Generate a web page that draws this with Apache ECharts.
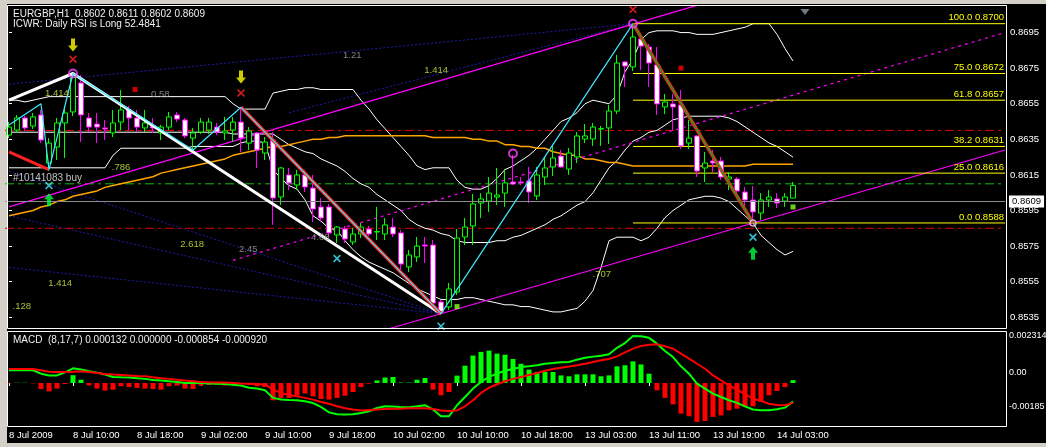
<!DOCTYPE html>
<html><head><meta charset="utf-8">
<script src="https://cdn.jsdelivr.net/npm/echarts@6/dist/echarts.min.js"></script>
<style>html,body{margin:0;padding:0;background:#d4d0c8;overflow:hidden}#c{width:1046px;height:447px}</style>
</head><body><div id="c"></div>
<script>
// ---------- DATA ----------
const ohlc = [ // [open, close, low, high]
[0.86374,0.86419,0.86357,0.86447],[0.86402,0.86470,0.86386,0.86487],[0.86470,0.86414,0.86397,0.86481],[0.86425,0.86476,0.86408,0.86498],[0.86487,0.86346,0.86329,0.86515],
[0.86217,0.86329,0.86172,0.86357],[0.86307,0.86442,0.86234,0.86470],[0.86442,0.86498,0.86245,0.86537],[0.86504,0.86700,0.86481,0.86723],[0.86667,0.86487,0.86335,0.86712],
[0.86470,0.86419,0.86391,0.86498],[0.86436,0.86419,0.86329,0.86498],[0.86414,0.86408,0.86346,0.86459],[0.86386,0.86442,0.86363,0.86515],[0.86447,0.86515,0.86402,0.86627],
[0.86515,0.86470,0.86402,0.86537],[0.86470,0.86419,0.86391,0.86515],[0.86414,0.86442,0.86391,0.86515],[0.86425,0.86414,0.86386,0.86470],[0.86386,0.86419,0.86346,0.86431],
[0.86419,0.86476,0.86402,0.86504],[0.86487,0.86464,0.86447,0.86504],[0.86459,0.86369,0.86357,0.86470],[0.86357,0.86386,0.86290,0.86414],[0.86391,0.86447,0.86380,0.86470],
[0.86402,0.86447,0.86380,0.86470],[0.86419,0.86391,0.86374,0.86442],[0.86386,0.86397,0.86346,0.86476],[0.86402,0.86447,0.86335,0.86476],[0.86447,0.86357,0.86279,0.86532],
[0.86329,0.86397,0.86290,0.86419],[0.86386,0.86290,0.86189,0.86391],[0.86273,0.86335,0.86234,0.86363],[0.86346,0.86020,0.85869,0.86391],[0.86026,0.86189,0.85981,0.86195],
[0.86150,0.86105,0.86065,0.86189],[0.86093,0.86150,0.86065,0.86178],[0.86150,0.86082,0.86054,0.86178],[0.86076,0.85958,0.85885,0.86150],[0.85970,0.85908,0.85885,0.86020],
[0.85970,0.85824,0.85801,0.85987],[0.85812,0.85857,0.85767,0.85863],[0.85846,0.85790,0.85767,0.85863],[0.85773,0.85818,0.85756,0.85852],[0.85818,0.85857,0.85795,0.85880],
[0.85846,0.85818,0.85807,0.85863],[0.85829,0.85832,0.85784,0.85970],[0.85818,0.85869,0.85784,0.85908],[0.85857,0.85818,0.85801,0.85908],[0.85824,0.85649,0.85616,0.85840],
[0.85633,0.85700,0.85604,0.85728],[0.85689,0.85750,0.85661,0.85801],[0.85756,0.85750,0.85655,0.85801],[0.85756,0.85430,0.85425,0.85784],[0.85436,0.85380,0.85368,0.85447],
[0.85408,0.85509,0.85391,0.85543],[0.85492,0.85795,0.85475,0.85846],[0.85801,0.85857,0.85756,0.85908],[0.85863,0.85987,0.85756,0.86043],[0.85992,0.86015,0.85908,0.86048],
[0.86003,0.86048,0.85942,0.86138],[0.86026,0.86037,0.85981,0.86189],[0.86048,0.86105,0.85970,0.86183],[0.86110,0.86099,0.86093,0.86262],[0.86110,0.86105,0.86093,0.86138],
[0.86116,0.86054,0.85992,0.86195],[0.86032,0.86150,0.86009,0.86195],[0.86138,0.86189,0.86093,0.86251],[0.86195,0.86245,0.86144,0.86313],[0.86256,0.86195,0.86189,0.86290],
[0.86183,0.86273,0.86150,0.86301],[0.86251,0.86369,0.86217,0.86391],[0.86352,0.86369,0.86329,0.86436],[0.86352,0.86419,0.86313,0.86442],[0.86408,0.86410,0.86313,0.86425],
[0.86414,0.86509,0.86324,0.86543],[0.86509,0.86779,0.86492,0.86824],[0.86785,0.86762,0.86644,0.86790],[0.86757,0.86925,0.86734,0.87000],[0.86914,0.86874,0.86740,0.86948],
[0.86869,0.86779,0.86644,0.86886],[0.86768,0.86549,0.86487,0.86869],[0.86532,0.86560,0.86492,0.86605],[0.86549,0.86532,0.86402,0.86605],[0.86543,0.86313,0.86296,0.86627],
[0.86329,0.86357,0.86296,0.86459],[0.86369,0.86172,0.86138,0.86374],[0.86189,0.86217,0.86110,0.86279],[0.86228,0.86217,0.86166,0.86290],[0.86228,0.86138,0.86121,0.86251],
[0.86127,0.86138,0.86065,0.86166],[0.86127,0.86060,0.86037,0.86138],[0.86054,0.86009,0.85970,0.86082],[0.86009,0.85942,0.85880,0.86088],[0.85936,0.86009,0.85897,0.86048],
[0.86009,0.86026,0.85970,0.86065],[0.86015,0.85992,0.85964,0.86048],[0.86003,0.86026,0.85970,0.86048],[0.8602,0.8609,0.8602,0.8611]
];
const upperBand = [
0.8657,0.8657,0.8656,0.8657,0.8658,0.8659,0.8659,0.8659,0.8659,0.8659,
0.8659,0.8659,0.8659,0.8659,0.8659,0.8659,0.8659,0.8659,0.8659,0.8659,
0.8659,0.8659,0.8659,0.8659,0.8659,0.8659,0.8659,0.8659,0.8655,0.8652,
0.8652,0.8652,0.8652,0.8661,0.8662,0.8663,0.8663,0.8664,0.8664,0.8663,
0.8663,0.8663,0.8663,0.8663,0.8657,0.8652,0.8646,0.8641,0.8636,0.8631,
0.8626,0.8620,0.8618,0.8619,0.8619,0.8619,0.8612,0.8608,0.8607,0.8607,
0.8609,0.8613,0.8618,0.8620,0.8623,0.8626,0.8630,0.8635,0.8640,0.8645,
0.8647,0.8650,0.8655,0.8657,0.8656,0.8655,0.8660,0.8673,0.8680,0.8691,
0.8695,0.8696,0.8696,0.8696,0.8695,0.8695,0.8694,0.8694,0.8694,0.8695,
0.8696,0.8697,0.8698,0.8700,0.8700,0.8700,0.8694,0.8686,0.8679];
const middleBand = [
0.8639,0.8639,0.8639,0.8639,0.8639,0.8639,0.8639,0.8639,0.8639,0.8639,
0.8639,0.8639,0.8639,0.8639,0.8639,0.8639,0.8639,0.8639,0.8639,0.8639,
0.8639,0.8639,0.8639,0.8639,0.8639,0.8639,0.8639,0.8639,0.8638,0.8638,
0.8638,0.8638,0.8638,0.8638,0.8635,0.8632,0.8630,0.8628,0.8627,0.8624,
0.8622,0.8620,0.8617,0.8613,0.8610,0.8608,0.8604,0.8601,0.8598,0.8595,
0.8590,0.8587,0.8585,0.8584,0.8582,0.8581,0.8578,0.8577,0.8577,0.8577,
0.8577,0.8578,0.8578,0.8580,0.8581,0.8583,0.8585,0.8587,0.8590,0.8592,
0.8595,0.8598,0.8600,0.8605,0.8612,0.8619,0.8623,0.8629,0.8634,0.8636,
0.8639,0.8640,0.8643,0.8646,0.8647,0.8648,0.8648,0.8648,0.8648,0.8648,
0.8647,0.8645,0.8642,0.8639,0.8636,0.8633,0.8631,0.8628,0.8625];
const lowerBand = [
0.8619,0.8619,0.8619,0.8619,0.8619,0.8619,0.8619,0.8619,0.8619,0.8619,
0.8619,0.8619,0.8619,0.8626,0.8630,0.8630,0.8630,0.8630,0.8630,0.8630,
0.8630,0.8630,0.8630,0.8631,0.8631,0.8631,0.8631,0.8631,0.8631,0.8633,
0.8634,0.8634,0.8633,0.8618,0.8613,0.8609,0.8607,0.8601,0.8592,0.8589,
0.8585,0.8584,0.8578,0.8573,0.8569,0.8566,0.8564,0.8562,0.8560,0.8557,
0.8554,0.8551,0.8549,0.8547,0.8545,0.8545,0.8545,0.8546,0.8546,0.8545,
0.8544,0.8543,0.8542,0.8542,0.8541,0.8541,0.8540,0.8539,0.8538,0.8538,
0.8539,0.8540,0.8544,0.8550,0.8563,0.8578,0.8580,0.8580,0.8580,0.8578,
0.8580,0.8585,0.8591,0.8595,0.8598,0.8601,0.8602,0.8603,0.8603,0.8602,
0.8600,0.8596,0.8592,0.8588,0.8581,0.8577,0.8573,0.8570,0.8572];
const orangeMA = [
0.8592,0.8593,0.8594,0.8595,0.8597,0.8598,0.8600,0.8601,0.8603,0.8604,
0.8605,0.8606,0.8608,0.8609,0.8610,0.8611,0.8612,0.8613,0.8614,0.8616,
0.8617,0.8618,0.8619,0.8620,0.8621,0.8622,0.8623,0.8624,0.8626,0.8627,
0.8628,0.8629,0.8630,0.8631,0.8631,0.8632,0.8633,0.8634,0.8635,0.8635,
0.8636,0.8636,0.8637,0.8637,0.8637,0.8637,0.8637,0.8637,0.8637,0.8637,
0.8637,0.8637,0.8637,0.8636,0.8636,0.8636,0.8636,0.8636,0.8635,0.8635,
0.8634,0.8634,0.8632,0.8632,0.8631,0.8631,0.8630,0.8630,0.8628,0.8627,
0.8626,0.8626,0.8624,0.8624,0.8623,0.8622,0.8622,0.8621,0.8620,0.8620,
0.8620,0.8620,0.8620,0.8620,0.8620,0.8620,0.8620,0.8620,0.8620,0.8620,
0.8620,0.8620,0.8620,0.8621,0.8621,0.8621,0.8621,0.8621,0.8621];
const macdHist = [
-0.00002,0.00001,0.00001,-0.00002,-0.00028,-0.00039,-0.00026,-0.00005,0.00036,0.00015,
-0.00011,-0.00026,-0.00035,-0.00031,-0.00015,-0.00019,-0.00023,-0.00026,-0.00028,-0.00031,
-0.00015,-0.00012,-0.00026,-0.00028,-0.00012,-0.00009,-0.00008,-0.00012,-0.00005,-0.00003,
-0.00008,-0.00015,-0.00019,-0.0008,-0.00069,-0.00069,-0.00059,-0.00049,-0.00062,-0.00074,
-0.00077,-0.00069,-0.00059,-0.00042,-0.00019,-0.00003,0.00012,0.00025,0.00028,0.00002,
0.00002,0.00015,0.00023,-0.00031,-0.00057,-0.00042,0.00034,0.0008,0.00127,0.00144,
0.0015,0.00136,0.00131,0.00111,0.00089,0.00062,0.00051,0.00051,0.00051,0.00035,
0.00031,0.0004,0.0004,0.0004,0.00031,0.00035,0.00077,0.00082,0.001,0.00086,
0.00043,-0.00034,-0.00069,-0.00099,-0.00142,-0.00154,-0.0018,-0.00176,-0.00157,-0.0015,
-0.00127,-0.00119,-0.00111,-0.00108,-0.00088,-0.00057,-0.00037,-0.00019,0.000132];
const macdMain = [
0.00059,0.00059,0.00059,0.00059,0.00043,0.00035,0.00035,0.00049,0.00068,0.00062,
0.00054,0.00048,0.00039,0.00028,0.00026,0.00025,0.00022,0.00019,0.00014,0.00011,
0.00008,0.00005,0,0,0,-0.00002,-0.00003,-0.00005,-0.00008,-0.00012,
-0.00022,-0.00026,-0.00034,-0.00069,-0.00076,-0.00079,-0.0008,-0.00085,-0.00093,-0.00111,
-0.00136,-0.00145,-0.00146,-0.00145,-0.00139,-0.00131,-0.00116,-0.00108,-0.00109,-0.00112,
-0.00112,-0.00108,-0.00103,-0.00123,-0.00154,-0.00154,-0.00103,-0.00065,-0.00026,0.00005,
0.00028,0.00043,0.00057,0.00065,0.00074,0.00077,0.00082,0.00089,0.00092,0.00096,
0.00097,0.00108,0.00117,0.00122,0.00126,0.00133,0.00163,0.00185,0.00217,0.00216,
0.00209,0.00182,0.00148,0.0012,0.00077,0.00043,-0.00003,-0.00026,-0.00049,-0.00065,
-0.0008,-0.00092,-0.00108,-0.00123,-0.00126,-0.00126,-0.00122,-0.00114,-0.000854];
const macdSignal = [
0.00065,0.00065,0.00065,0.00065,0.00059,0.00052,0.00051,0.00051,0.00052,0.00054,
0.00051,0.00046,0.00042,0.00039,0.00037,0.00035,0.00032,0.00031,0.00026,0.00022,
0.00019,0.00015,0.00011,0.00008,0.00005,0.00003,0.00002,0.00002,0,-0.00002,
-0.00003,-0.00005,-0.00008,-0.00031,-0.00046,-0.00056,-0.00062,-0.00069,-0.00077,-0.00088,
-0.00096,-0.00108,-0.00117,-0.00123,-0.00127,-0.00125,-0.00123,-0.0012,-0.00119,-0.00119,
-0.00117,-0.00117,-0.00117,-0.0012,-0.00127,-0.0013,-0.00127,-0.00108,-0.0008,-0.00046,
-0.00022,-0.00006,0.00008,0.00019,0.00028,0.00037,0.00046,0.00057,0.00065,0.00071,
0.00076,0.00082,0.00089,0.00097,0.00105,0.00111,0.00123,0.00142,0.00159,0.00171,
0.00177,0.00179,0.0017,0.00159,0.00136,0.00113,0.00089,0.00066,0.00035,0.00012,
-0.00011,-0.00031,-0.00052,-0.00073,-0.00083,-0.00096,-0.00102,-0.00103,-0.00092];

const tickLabels = ['8 Jul 2009','8 Jul 10:00','8 Jul 18:00','9 Jul 02:00','9 Jul 10:00','9 Jul 18:00','10 Jul 02:00','10 Jul 10:00','10 Jul 18:00','13 Jul 03:00','13 Jul 11:00','13 Jul 19:00','14 Jul 03:00'];
const priceTicks = [0.8695,0.8675,0.8655,0.8635,0.8615,0.8595,0.8575,0.8555,0.8535];
const macdTicks = [0.002314, 0, -0.00185];
const macdTickLabels = ['0.002314','0.00','-0.00185'];
const lastPrice = 0.8609;
const redLevels = [0.8640, 0.8585];
const greenLevels = [0.8610];
const fibPrices = [0.8700, 0.8672, 0.8657, 0.8631, 0.8616, 0.8588];
const fibLabels = ['100.0 0.8700','75.0 0.8672','61.8 0.8657','38.2 0.8631','25.0 0.8616','0.0 0.8588'];
const fibStart = 78;
// drawn objects: [barIndex, price]
const whiteZig = [[0,0.8657],[8,0.8672],[54,0.8537]];
const cyanZig = [[0,0.8643],[4,0.8655],[5,0.8618],[8,0.8672],[23,0.8629],[29,0.8653],[54,0.8537],[78,0.8700]];
const redLeft = [[0,0.8628],[5,0.8618]];
const redMid = [[29,0.8653],[54,0.8537]];
const downLeg = [[78,0.8700],[93,0.8588]];
const magentaTop = [[0,0.8597],[86,0.87103]];
const magentaBottom = [[47.4,0.85284],[124.5,0.8629]];
const magentaDotted = [[28,0.8567],[124.5,0.8695]];
const blueLines = [
  [[0,0.8666],[78,0.8700]],
  [[35,0.8650],[78,0.8700]],
  [[0,0.8617],[54,0.8537]],
  [[0,0.8592],[54,0.8537]],
  [[0,0.8563],[54,0.8537]]
];
const yellowArrows = [[8,0.8688],[29,0.8670]];
const redStars = [[8,0.8680],[29,0.8661],[78,0.8708]];
const magentaCircles = [[8,0.8672],[78,0.8700],[63,0.8627]];
const smallCircle = [[93,0.8588]];
const cyanStars = [[5,0.8609],[41,0.8568],[54,0.8530],[93,0.8580]];
const greenArrows = [[5,0.8601],[93,0.8571]];
const redDots = [[15.75,0.8663],[84,0.8675]];
const limeDots = [[56,0.8541],[98,0.8597]];
const annotations = [
  [42.9,0.8682,'1.21','grey'],[53.4,0.8674,'1.414','lime'],[6,0.8661,'1.414','lime'],
  [18.9,0.8660,'0.58','grey'],[14,0.8619,'.786','lime'],[22.9,0.8576,'2.618','lime'],
  [29.9,0.8573,'2.45','grey'],[38.9,0.8580,'4.68','grey'],[6.4,0.8554,'1.414','lime'],
  [1.6,0.8541,'.128','lime'],[74.1,0.8559,'.707','lime']
];
const buyNote = [0.5, 0.8613, '#10141083 buy'];
const NCAT = 125;
const shiftMarkerIdx = 99.5;

// ---------- BUILD ----------
function buildCats(n){
  const out=[]; let t=Date.UTC(2009,6,8,2);
  while(out.length<n){
    const d=new Date(t), wd=d.getUTCDay(), h=d.getUTCHours();
    const skip=(wd===5&&h>22)||wd===6||wd===0;
    if(!skip) out.push(d.getUTCDate()+' Jul '+String(h).padStart(2,'0')+':00');
    t+=3600000;
  }
  return out;
}
const cats = buildCats(NCAT);
const FONT = 'Liberation Sans';
const FS = 9.5;
const colors = {lime:'#ccee44', grey:'#a0a0a0'};

function seg(data, color, width, type, z){
  return {type:'line', xAxisIndex:1, yAxisIndex:0, data:data, symbol:'none', silent:true,
    lineStyle:{color:color, width:width, type:type||'solid'}, z:z||4, animation:false};
}
const series = [];
series.push({type:'line', xAxisIndex:0, yAxisIndex:0, data:upperBand, symbol:'none', lineStyle:{color:'#fff',width:1}, z:2});
series.push({type:'line', xAxisIndex:0, yAxisIndex:0, data:middleBand, symbol:'none', lineStyle:{color:'#fff',width:1}, z:2});
series.push({type:'line', xAxisIndex:0, yAxisIndex:0, data:lowerBand, symbol:'none', lineStyle:{color:'#fff',width:1}, z:2});
series.push({type:'line', xAxisIndex:0, yAxisIndex:0, data:orangeMA, symbol:'none', lineStyle:{color:'#ffa500',width:1.5}, z:2});
blueLines.forEach(l=>series.push(seg(l,'#1c1ca8',1,[2,2],1)));
redLevels.forEach(v=>series.push(seg([[-0.5,v],[124.5,v]],'#e00000',1,[9,4,3,4],1)));
greenLevels.forEach(v=>series.push(seg([[-0.5,v],[124.5,v]],'#10c010',1,[9,4,3,4],1)));
series.push(seg(magentaTop,'#ff00ff',1.2,'solid',2));
series.push(seg(magentaBottom,'#ff00ff',1.2,'solid',2));
series.push(seg(magentaDotted,'#ff00ff',1.2,[3,4],2));
fibPrices.forEach((p,i)=>{
  series.push({type:'line', xAxisIndex:1, yAxisIndex:0, data:[[fibStart,p],[124.5,p]], symbol:'none', silent:true,
    lineStyle:{color:'#ffff00',width:1}, z:2,
    endLabel:{show:true, formatter:fibLabels[i], color:'#ffff00', fontSize:FS, fontFamily:FONT, align:'right', verticalAlign:'bottom', offset:[-9,-1]}});
});
series.push({
  type:'candlestick', xAxisIndex:0, yAxisIndex:0, data:ohlc, barWidth:5, z:3,
  itemStyle:{color:'#000000', color0:'#ffffff', borderColor:'#00ff00', borderColor0:'#ff00ff', borderWidth:1},
  markLine:{symbol:['none','none'], silent:true, animation:false,
    data:[
      {yAxis:lastPrice, lineStyle:{color:'#8c8c8c',type:'solid',width:1},
        label:{show:true, position:'end', formatter:lastPrice.toFixed(4), backgroundColor:'#ffffff', color:'#000', padding:[1,3,1,3], fontSize:FS, fontFamily:FONT, distance:4}}
    ]}
});
series.push(seg(whiteZig,'#ffffff',3,'solid',5));
series.push(seg(redLeft,'#ff2020',3,'solid',5));
series.push(seg(redMid,'#ff2020',3.5,'solid',5));
series.push(seg(cyanZig,'#40e8ff',1.2,'solid',6));
series.push(seg(downLeg,'#ff2020',3.5,'solid',5));
series.push(seg(downLeg,'#1e9a1e',1.5,'solid',6));

function sc(data, symbol, size, style){
  return {type:'scatter', xAxisIndex:1, yAxisIndex:0, data:data, symbol:symbol, symbolSize:size, itemStyle:style, z:7, silent:true};
}
const ARROW_DN='path://M3,0 L7,0 L7,7 L10,7 L5,13 L0,7 L3,7 Z';
const ARROW_UP='path://M5,0 L10,6 L7,6 L7,13 L3,13 L3,6 L0,6 Z';
const STAR='path://M0,1.5 L1.5,0 L5,3.5 L8.5,0 L10,1.5 L6.5,5 L10,8.5 L8.5,10 L5,6.5 L1.5,10 L0,8.5 L3.5,5 Z';
series.push(sc(yellowArrows, ARROW_DN, [10,13], {color:'#ffff00'}));
series.push(sc(greenArrows, ARROW_UP, [10,13], {color:'#00ff40'}));
series.push(sc(redStars, STAR, 8, {color:'#ff2020'}));
series.push(sc(cyanStars, STAR, 8, {color:'#40e8ff'}));
series.push(sc(magentaCircles, 'circle', 8, {color:'rgba(0,0,0,0)', borderColor:'#ff40ff', borderWidth:2}));
series.push(sc(smallCircle, 'circle', 6, {color:'rgba(0,0,0,0)', borderColor:'#ffc0ff', borderWidth:1.5}));
series.push(sc(redDots, 'rect', 5, {color:'#ff0000'}));
series.push(sc(limeDots, 'rect', 5, {color:'#88ff22'}));
series.push({type:'scatter', xAxisIndex:1, yAxisIndex:0, symbolSize:0, z:7, silent:true,
  data: annotations.map(a=>({value:[a[0],a[1]], label:{show:true, position:'inside', formatter:a[2], color:colors[a[3]], fontSize:FS, fontFamily:FONT}}))
    .concat([{value:[buyNote[0],buyNote[1]], label:{show:true, position:'right', distance:0, formatter:buyNote[2], color:'#f0f0f0', fontSize:FS+0.5, fontFamily:FONT}}])
});
// shift marker (grey triangle at top edge)
series.push({type:'scatter', xAxisIndex:1, yAxisIndex:0, data:[[shiftMarkerIdx,0.87065]], symbol:'triangle', symbolRotate:180, symbolSize:[9,6], itemStyle:{color:'#8a9aa8'}, z:8, silent:true, clip:false});
// MACD pane
series.push({type:'bar', xAxisIndex:2, yAxisIndex:1, data:macdHist, barWidth:5,
  itemStyle:{color:p=>p.value>=0?'#00ff00':'#ff0000'}});
series.push({type:'line', xAxisIndex:2, yAxisIndex:1, data:macdMain, symbol:'none', lineStyle:{color:'#00ff00',width:2}, z:4});
series.push({type:'line', xAxisIndex:2, yAxisIndex:1, data:macdSignal, symbol:'none', lineStyle:{color:'#ff0000',width:2}, z:4});

const option = {
  animation:false,
  backgroundColor:'transparent',
  textStyle:{fontFamily:FONT},
  grid:[
    {left:5, top:5, width:1000, height:324, outerBoundsMode:'none', containLabel:false},
    {left:5, top:333, width:1000, height:94, outerBoundsMode:'none', containLabel:false}
  ],
  xAxis:[
    {type:'category', gridIndex:0, data:cats, show:false, boundaryGap:true},
    {type:'value', gridIndex:0, min:-0.5, max:124.5, show:false},
    {type:'category', gridIndex:1, data:cats, boundaryGap:true,
      axisLine:{show:false},
      axisTick:{show:true, alignWithLabel:true, length:3, lineStyle:{color:'#fff'},
        interval:(i)=>i%8===0 && i/8<tickLabels.length},
      axisLabel:{interval:0, align:'left', margin:3, color:'#fff', fontSize:FS, fontFamily:FONT,
        formatter:(v,i)=> (i%8===0 && tickLabels[i/8]) ? tickLabels[i/8] : ''},
      splitLine:{show:false}}
  ],
  yAxis:[
    {type:'value', gridIndex:0, position:'right', offset:2, min:0.85284, max:0.87105, scale:true,
      splitLine:{show:false}, axisLine:{show:false},
      axisTick:{show:true, length:3, customValues:priceTicks, lineStyle:{color:'#fff'}},
      axisLabel:{customValues:priceTicks, formatter:v=>v.toFixed(4), color:'#fff', fontSize:FS, fontFamily:FONT, margin:3}},
    {type:'value', gridIndex:1, position:'right', offset:2, min:-0.002038, max:0.002314,
      splitLine:{show:false}, axisLine:{show:false}, axisTick:{show:false},
      axisLabel:{customValues:macdTicks, color:'#fff', fontSize:FS, fontFamily:FONT, margin:2,
        formatter:v=>{const k=macdTicks.findIndex(t=>Math.abs(t-v)<1e-7); const s=['a','b','c'][k]||'b'; return '{'+s+'|'+(macdTickLabels[k]||'')+'}';},
        rich:{a:{padding:[6,0,0,0],color:'#fff',fontSize:9,fontFamily:FONT},b:{padding:[0,0,20,0],color:'#fff',fontSize:9,fontFamily:FONT},c:{padding:[0,0,32,0],color:'#fff',fontSize:9,fontFamily:FONT}}}}
  ],
  graphic:[
    {type:'rect', shape:{x:7,y:4,width:1039,height:439}, style:{fill:'#000'}, z:-100, silent:true},
    {type:'rect', shape:{x:7.5,y:5.5,width:999,height:323}, style:{fill:'none',stroke:'#fff',lineWidth:1}, z:100, silent:true},
    {type:'rect', shape:{x:7.5,y:331.5,width:999,height:95}, style:{fill:'none',stroke:'#fff',lineWidth:1}, z:100, silent:true},
    {type:'text', x:13, y:9, style:{text:'EURGBP,H1  0.8602 0.8611 0.8602 0.8609', fill:'#f0f0f0', font:'10px "Liberation Sans"'}, z:100},
    {type:'text', x:13, y:19, style:{text:'ICWR: Daily RSI is Long 52.4841', fill:'#f0f0f0', font:'10px "Liberation Sans"'}, z:100},
    {type:'text', x:13, y:335, style:{text:'MACD  (8,17,7) 0.000132 0.000000 -0.000854 -0.000920', fill:'#f0f0f0', font:'10px "Liberation Sans"'}, z:100}
  ],
  series:series
};
const chart = echarts.init(document.getElementById('c'), null, {renderer:'canvas'});
chart.setOption(option);
</script></body></html>
